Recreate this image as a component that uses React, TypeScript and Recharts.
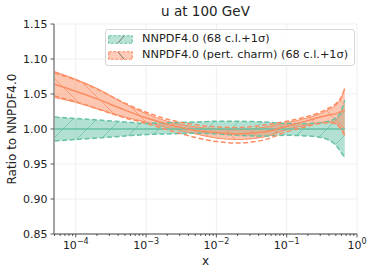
import React from "react";
import {
  Area,
  CartesianGrid,
  ComposedChart,
  Line,
  XAxis,
  YAxis,
} from "recharts";

const xs = [5e-5, 1e-4, 2e-4, 5e-4, 1e-3, 2e-3, 5e-3, 1e-2, 2e-2, 5e-2, 0.1, 0.2, 0.3, 0.4, 0.5, 0.6, 0.67];

// NNPDF4.0 (reference, ratio to itself)
const baseCentral = [1, 1, 1, 1, 1, 1, 1, 1, 1, 1, 1, 1, 1, 1, 1, 1, 1];
const baseHi = [1.017, 1.015, 1.013, 1.010, 1.008, 1.009, 1.010, 1.011, 1.011, 1.010, 1.008, 1.008, 1.009, 1.011, 1.016, 1.026, 1.041];
const baseLo = [0.983, 0.985, 0.987, 0.990, 0.992, 0.993, 0.994, 0.993, 0.991, 0.990, 0.991, 0.990, 0.988, 0.984, 0.977, 0.966, 0.959];

// NNPDF4.0 (pert. charm)
const pcCentral = [1.064, 1.054, 1.043, 1.027, 1.016, 1.007, 0.998, 0.995, 0.993, 0.996, 1.004, 1.012, 1.017, 1.020, 1.022, 1.025, 1.027];
const pcHi = [1.082, 1.071, 1.058, 1.036, 1.022, 1.011, 1.003, 1.000, 0.999, 1.003, 1.009, 1.016, 1.022, 1.028, 1.034, 1.045, 1.058];
const pcLo = [1.045, 1.038, 1.029, 1.017, 1.010, 1.002, 0.993, 0.987, 0.985, 0.989, 0.999, 1.006, 1.009, 1.010, 1.008, 1.000, 0.992];
const pcSdHi = [1.080, 1.070, 1.057, 1.037, 1.024, 1.014, 1.006, 1.003, 1.002, 1.006, 1.011, 1.018, 1.024, 1.030, 1.036, 1.046, 1.058];
const pcSdLo = [1.047, 1.039, 1.029, 1.016, 1.008, 0.999, 0.988, 0.982, 0.980, 0.985, 0.996, 1.004, 1.008, 1.009, 1.007, 0.999, 0.990];

const xMajor = [1e-4, 1e-3, 1e-2, 1e-1, 1];
const xMajorExp = ["\u22124", "\u22123", "\u22122", "\u22121", "0"];
const xMinor = [-5, -4, -3, -2, -1].flatMap((k) =>
  [2, 3, 4, 5, 6, 7, 8, 9].map((m) => m * Math.pow(10, k)).filter((v) => v > 4.9e-5 && v < 1)
);
const yTicks = [0.85, 0.9, 0.95, 1.0, 1.05, 1.1, 1.15];

const GREEN = "#66c2a5";
const ORANGE = "#fc8d62";
const FONT = "'DejaVu Sans', sans-serif";
const X_DOMAIN = [4.9e-5, 1];

const data = xs.map((x, i) => ({
  x,
  base: baseCentral[i],
  baseBand: [baseLo[i], baseHi[i]],
  baseLo: baseLo[i],
  baseHi: baseHi[i],
  pc: pcCentral[i],
  pcBand: [pcLo[i], pcHi[i]],
  pcSdLo: pcSdLo[i],
  pcSdHi: pcSdHi[i],
}));

function XTick(props: any) {
  const { x, y, payload } = props;
  const idx = xMajor.findIndex((v) => Math.abs(v - payload.value) < payload.value * 1e-6);
  const major = idx >= 0;
  return (
    <g>
      <line x1={x} x2={x} y1={y} y2={y + (major ? 3.5 : 2)} stroke="#333" strokeWidth={0.8} />
      {major && (
        <text x={x} y={y + 15} textAnchor="middle" fontSize={11} fill="#222" fontFamily={FONT}>
          <tspan>10</tspan>
          <tspan dy={-5} fontSize={8}>{xMajorExp[idx]}</tspan>
        </text>
      )}
    </g>
  );
}

function Patch({ id, color, dir }: { id: string; color: string; dir: "/" | "\\" }) {
  return (
    <svg width={25} height={9} style={{ display: "block" }}>
      <rect x={0.75} y={0.75} width={23.5} height={7.5} fill={color} fillOpacity={0.45} stroke={color} strokeWidth={1.2} strokeDasharray="3 1.5" />
      <line x1={dir === "/" ? 10 : 10} y1={dir === "/" ? 8 : 1} x2={16} y2={dir === "/" ? 1 : 8} stroke="#666" strokeWidth={0.9} />
    </svg>
  );
}

export default function App() {
  return (
    <div style={{ position: "absolute", left: 0, top: 0, width: 374, height: 275, fontFamily: FONT, background: "#fff" }}>
      <div style={{ position: "absolute", left: 54, top: 3, width: 303, textAlign: "center", fontSize: 13.5, color: "#222" }}>
        u at 100 GeV
      </div>
      <ComposedChart width={374} height={275} data={data} margin={{ top: 24, right: 17, bottom: 0, left: 0 }}>
        <defs>
          <pattern id="hatchG" patternUnits="userSpaceOnUse" width={24} height={24}>
            <rect width={24} height={24} fill={GREEN} fillOpacity={0.5} />
            <path d="M0,24 L24,0 M-2,2 L2,-2 M22,26 L26,22" stroke={GREEN} strokeWidth={0.7} />
          </pattern>
          <pattern id="hatchO" patternUnits="userSpaceOnUse" width={24} height={24}>
            <rect width={24} height={24} fill={ORANGE} fillOpacity={0.5} />
            <path d="M0,0 L24,24 M-2,22 L2,26 M22,-2 L26,2" stroke={ORANGE} strokeWidth={0.7} />
          </pattern>
        </defs>
        <CartesianGrid stroke="#ebebeb" strokeWidth={0.8} xAxisId="grid" />
        <XAxis
          xAxisId="grid"
          dataKey="x"
          type="number"
          scale="log"
          domain={X_DOMAIN}
          allowDataOverflow
          ticks={xMajor}
          interval={0}
          hide
        />
        <XAxis
          dataKey="x"
          type="number"
          scale="log"
          domain={X_DOMAIN}
          allowDataOverflow
          ticks={[...xMajor, ...xMinor]}
          interval={0}
          tick={<XTick />}
          tickLine={false}
          tickSize={0}
          tickMargin={0}
          height={41}
          stroke="#444"
          axisLine={{ stroke: "#444", strokeWidth: 1 }}
          label={{ value: "x", position: "insideBottom", offset: 10, fontSize: 12, fill: "#222", fontFamily: FONT }}
        />
        <YAxis
          type="number"
          domain={[0.85, 1.15]}
          ticks={yTicks}
          interval={0}
          width={54}
          tickFormatter={(v: number) => v.toFixed(2)}
          tick={{ fontSize: 11, fill: "#222", fontFamily: FONT }}
          tickSize={3.5}
          tickMargin={3}
          tickLine={{ stroke: "#333", strokeWidth: 0.8 }}
          axisLine={{ stroke: "#888", strokeWidth: 1.5 }}
          label={{
            content: ({ viewBox }: any) => {
              const cy = viewBox.y + viewBox.height / 2;
              return (
                <text x={16} y={cy} transform={`rotate(-90 16 ${cy})`} textAnchor="middle" fontSize={12} fill="#222" fontFamily={FONT}>
                  Ratio to NNPDF4.0
                </text>
              );
            },
          }}
        />
        <Area
          dataKey="baseBand"
          type="monotone"
          fill="url(#hatchG)"
          fillOpacity={1}
          stroke="none"
          isAnimationActive={false}
        />
        <Area
          dataKey="pcBand"
          type="monotone"
          fill="url(#hatchO)"
          fillOpacity={1}
          stroke={ORANGE}
          strokeWidth={1}
          isAnimationActive={false}
        />
        <Line dataKey="baseHi" type="monotone" stroke={GREEN} strokeWidth={1.5} strokeDasharray="5 2.5" dot={false} isAnimationActive={false} />
        <Line dataKey="baseLo" type="monotone" stroke={GREEN} strokeWidth={1.5} strokeDasharray="5 2.5" dot={false} isAnimationActive={false} />
        <Line dataKey="base" type="monotone" stroke={GREEN} strokeWidth={1.5} dot={false} isAnimationActive={false} />
        <Line dataKey="pcSdHi" type="monotone" stroke={ORANGE} strokeWidth={1.5} strokeDasharray="5 2.5" dot={false} isAnimationActive={false} />
        <Line dataKey="pcSdLo" type="monotone" stroke={ORANGE} strokeWidth={1.5} strokeDasharray="5 2.5" dot={false} isAnimationActive={false} />
        <Line dataKey="pc" type="monotone" stroke={ORANGE} strokeWidth={1.5} dot={false} isAnimationActive={false} />
      </ComposedChart>
      <div
        style={{
          position: "absolute",
          left: 105,
          top: 29,
          width: 250,
          height: 37,
          boxSizing: "border-box",
          border: "1px solid #d6d6d6",
          borderRadius: 3,
          background: "rgba(255,255,255,0.8)",
          fontSize: 11.3,
          color: "#222",
        }}
      >
        <div style={{ position: "absolute", left: 2, top: 5 }}>
          <Patch id="legG" color={GREEN} dir="/" />
        </div>
        <div style={{ position: "absolute", left: 36, top: 2, whiteSpace: "nowrap" }}>NNPDF4.0 (68 c.l.+1σ)</div>
        <div style={{ position: "absolute", left: 2, top: 21 }}>
          <Patch id="legO" color={ORANGE} dir="\" />
        </div>
        <div style={{ position: "absolute", left: 36, top: 18, whiteSpace: "nowrap" }}>NNPDF4.0 (pert. charm) (68 c.l.+1σ)</div>
      </div>
    </div>
  );
}
